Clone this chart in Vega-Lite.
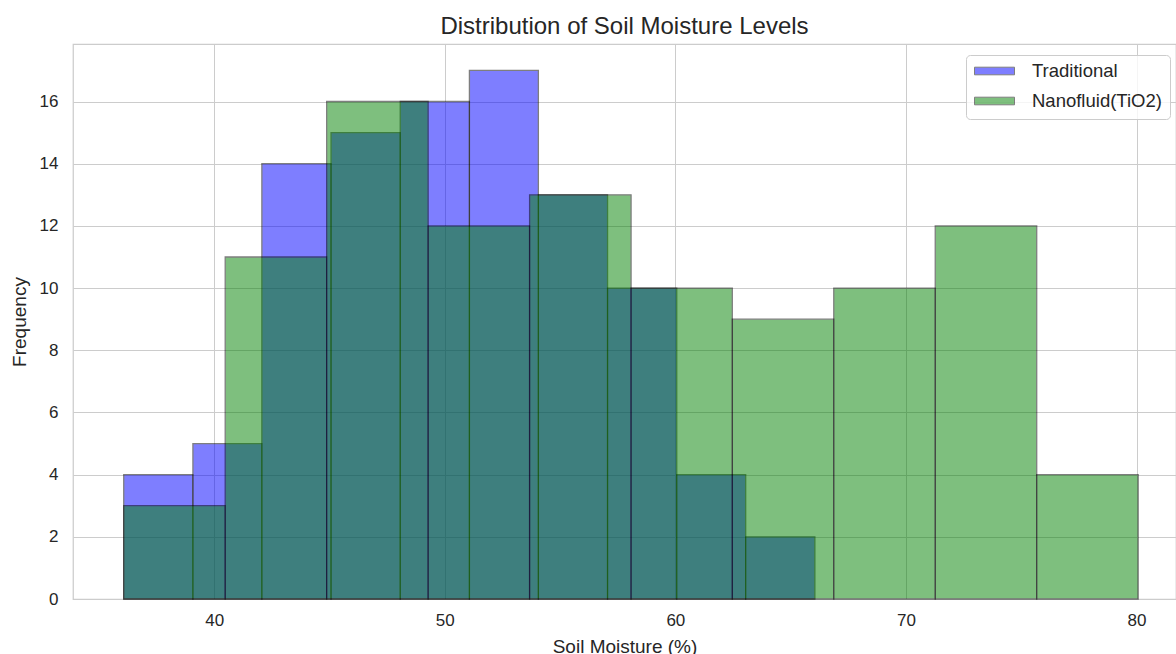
{
  "$schema": "https://vega.github.io/schema/vega-lite/v6.json",
  "autosize": {"type": "none"},
  "padding": {"left": 73, "top": 44, "right": 0, "bottom": 55},
  "width": 1103,
  "height": 555,
  "background": "white",
  "title": {
    "text": "Distribution of Soil Moisture Levels",
    "fontSize": 24,
    "fontWeight": "normal",
    "color": "#262626",
    "anchor": "middle",
    "offset": 5
  },
  "data": {
    "values": [
      {"series": "Traditional", "start": 36.08, "end": 39.08, "count": 4},
      {"series": "Traditional", "start": 39.08, "end": 42.07, "count": 5},
      {"series": "Traditional", "start": 42.07, "end": 45.07, "count": 14},
      {"series": "Traditional", "start": 45.07, "end": 48.07, "count": 15},
      {"series": "Traditional", "start": 48.07, "end": 51.07, "count": 16},
      {"series": "Traditional", "start": 51.07, "end": 54.06, "count": 17},
      {"series": "Traditional", "start": 54.06, "end": 57.06, "count": 13},
      {"series": "Traditional", "start": 57.06, "end": 60.06, "count": 10},
      {"series": "Traditional", "start": 60.06, "end": 63.05, "count": 4},
      {"series": "Traditional", "start": 63.05, "end": 66.05, "count": 2},
      {"series": "Nanofluid(TiO2)", "start": 36.08, "end": 40.48, "count": 3},
      {"series": "Nanofluid(TiO2)", "start": 40.48, "end": 44.88, "count": 11},
      {"series": "Nanofluid(TiO2)", "start": 44.88, "end": 49.28, "count": 16},
      {"series": "Nanofluid(TiO2)", "start": 49.28, "end": 53.68, "count": 12},
      {"series": "Nanofluid(TiO2)", "start": 53.68, "end": 58.08, "count": 13},
      {"series": "Nanofluid(TiO2)", "start": 58.08, "end": 62.47, "count": 10},
      {"series": "Nanofluid(TiO2)", "start": 62.47, "end": 66.87, "count": 9},
      {"series": "Nanofluid(TiO2)", "start": 66.87, "end": 71.27, "count": 10},
      {"series": "Nanofluid(TiO2)", "start": 71.27, "end": 75.67, "count": 12},
      {"series": "Nanofluid(TiO2)", "start": 75.67, "end": 80.07, "count": 4}
    ]
  },
  "mark": {
    "type": "bar",
    "opacity": 0.5,
    "stroke": "black",
    "strokeWidth": 1.3
  },
  "encoding": {
    "x": {
      "field": "start",
      "type": "quantitative",
      "scale": {"domain": [33.88, 81.71], "nice": false, "zero": false},
      "axis": {
        "title": "Soil Moisture (%)",
        "values": [40, 50, 60, 70, 80],
        "labelPadding": 13,
        "titlePadding": 9
      }
    },
    "x2": {"field": "end"},
    "y": {
      "field": "count",
      "type": "quantitative",
      "scale": {"domain": [0, 17.85], "nice": false},
      "axis": {
        "title": "Frequency",
        "values": [0, 2, 4, 6, 8, 10, 12, 14, 16],
        "labelPadding": 15,
        "titlePadding": 10
      }
    },
    "y2": {"datum": 0},
    "color": {
      "field": "series",
      "type": "nominal",
      "scale": {"domain": ["Traditional", "Nanofluid(TiO2)"], "range": ["blue", "green"]},
      "legend": {
        "title": null,
        "orient": "none",
        "legendX": 893,
        "legendY": 11,
        "symbolType": "M-1,-0.19L1,-0.19L1,0.19L-1,0.19Z",
        "symbolSize": 1600,
        "symbolOpacity": 0.5,
        "symbolStrokeColor": "black",
        "symbolStrokeWidth": 1,
        "clipHeight": 16,
        "rowPadding": 11,
        "labelOffset": 17,
        "labelFontSize": 18.5,
        "labelColor": "#262626",
        "fillColor": "rgba(255,255,255,0.8)",
        "strokeColor": "#cccccc",
        "cornerRadius": 4,
        "padding": 8
      }
    }
  },
  "config": {
    "font": "Liberation Sans",
    "view": {"stroke": "#cccccc", "strokeWidth": 1.25},
    "axis": {
      "domain": false,
      "ticks": false,
      "tickSize": 0,
      "grid": true,
      "gridColor": "#cccccc",
      "gridWidth": 1,
      "labelFontSize": 17,
      "labelColor": "#262626",
      "titleFontSize": 19,
      "titleFontWeight": "normal",
      "titleColor": "#262626"
    }
  }
}
